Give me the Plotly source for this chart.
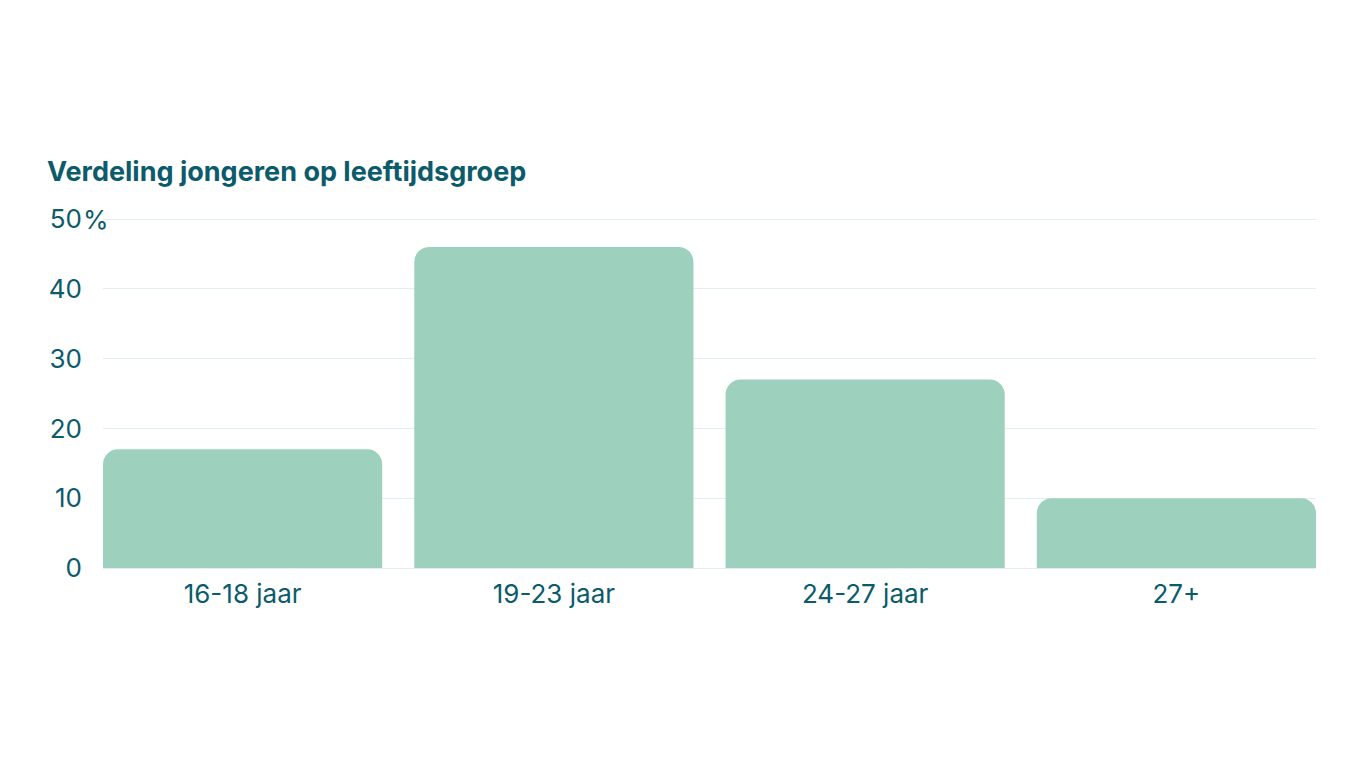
import plotly.graph_objects as go

categories = ["16-18 jaar", "19-23 jaar", "24-27 jaar", "27+"]
values = [17, 46, 27, 10]
tick_vals = [0, 10, 20, 30, 40, 50]
tick_text = ["0", "10", "20", "30", "40", "50"]

TEXT = "#0b5b6b"
BAR = "#9ed1bd"
GRID = "#e3efef"
GAP = 0.103

fig = go.Figure(go.Bar(
    x=categories, y=values,
    marker=dict(color=BAR, cornerradius=15, line=dict(width=0)),
    hoverinfo="x+y",
))

fig.update_layout(
    width=1366, height=768,
    paper_bgcolor="white", plot_bgcolor="white",
    margin=dict(l=103, r=50, t=218, b=200),
    bargap=GAP,
    showlegend=False,
    font=dict(family="Inter", color=TEXT, size=26),
    title=dict(
        text="<b>Verdeling jongeren op leeftijdsgroep</b>",
        x=47/1366, xanchor="left", xref="container",
        y=1-172/768, yanchor="middle", yref="container",
        font=dict(family="Inter", size=27, color=TEXT),
    ),
    xaxis=dict(
        range=[-0.5 + GAP/2, len(categories) - 0.5 - GAP/2],
        showgrid=False, showline=True, linecolor=GRID, linewidth=1,
        ticks="", tickfont=dict(size=26, color=TEXT), ticklabelstandoff=3,
    ),
    yaxis=dict(
        range=[0, 50.15], tickvals=tick_vals, ticktext=tick_text,
        showgrid=True, gridcolor=GRID, gridwidth=1, zeroline=False,
        showline=False, ticks="", tickfont=dict(size=26, color=TEXT),
        ticklabelstandoff=20,
    ),
    annotations=[dict(
        text="%", x=0, y=50, xref="paper", yref="y",
        xanchor="left", yanchor="middle", xshift=-22, showarrow=False,
        font=dict(family="Inter", size=26, color=TEXT),
    )],
)

fig.write_html("out.html")
